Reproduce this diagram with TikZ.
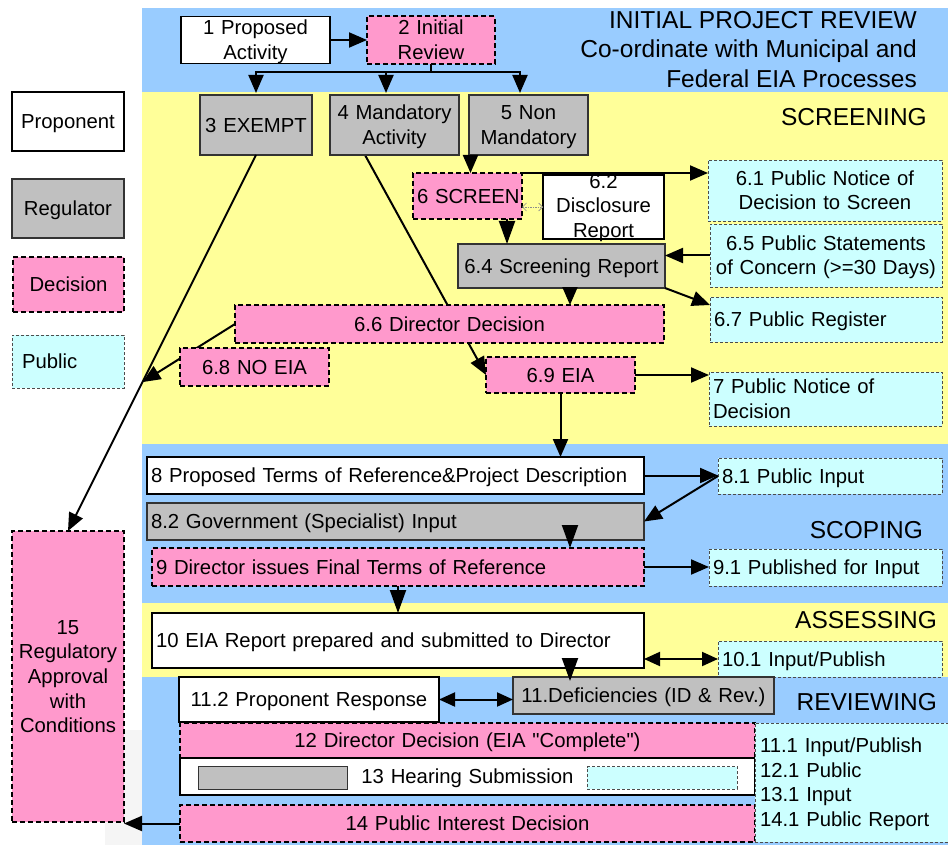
\documentclass[tikz,border=0pt]{standalone}
\usepackage{fontspec}
\setmainfont{Liberation Sans}
\usetikzlibrary{arrows.meta,calc}

\definecolor{bandBlue}{HTML}{99CCFF}
\definecolor{bandYellow}{HTML}{FFFF99}
\definecolor{decPink}{HTML}{FF99CC}
\definecolor{regGray}{HTML}{C0C0C0}
\definecolor{pubCyan}{HTML}{CCFFFF}

\newcommand\bodyfont{\fontsize{20.3}{24.7}\selectfont}
\newcommand\headfont{\fontsize{24.5}{29.5}\selectfont}
\newcommand\ppstrut{\vrule width 0pt height 0.905em depth 0.212em\relax}

\pgfdeclarelayer{bg}
\pgfdeclarelayer{behind}
\pgfsetlayers{bg,behind,main}

\begin{document}
\begin{tikzpicture}[x=1pt,y=-1pt,
  base/.style={rectangle, inner xsep=4pt, inner ysep=0pt, outer sep=0pt,
    font=\bodyfont, align=center,
    execute at begin node=\ppstrut, execute at end node=\ppstrut},
  sz/.style 2 args={minimum width=#1pt, minimum height=#2pt, text width=#1pt-8pt},
  blank/.style={execute at begin node={}, execute at end node={}, text width=},
  prop/.style={base, fill=white, draw=black, line width=1.2pt},
  regu/.style={base, fill=regGray, draw=black!80, line width=1.2pt},
  deci/.style={base, fill=decPink, draw=black, line width=2pt,
    dash pattern=on 5pt off 3pt},
  publ/.style={base, fill=pubCyan, draw=black!70, line width=0.9pt,
    dash pattern=on 3pt off 2pt},
  lft/.style={align=left, text width=#1},
  stage/.style={font=\headfont, inner sep=0pt, anchor=east},
  conn/.style={line width=2pt, draw=black},
  arr/.style={conn, -{Triangle[length=18pt,width=15pt]}},
  arrL/.style={conn, -{Triangle[length=23pt,width=16pt]}},
  darr/.style={conn, {Triangle[length=16pt,width=14pt]}-{Triangle[length=16pt,width=14pt]}},
  dotarr/.style={draw=black!45, line width=0.7pt, densely dotted,
    {Straight Barb[length=4pt,width=8pt]}-{Straight Barb[length=4pt,width=8pt]}}
]
\useasboundingbox (0,0) rectangle (948,845);

% ---- legend ----
\node[prop, sz={112}{59}] (legP) at (68,121.5) {Proponent};
\node[regu, sz={112}{59}] (legR) at (68,208.5) {Regulator};
\node[deci, sz={111}{55}] (legD) at (68.5,284.5) {Decision};
\node[publ, sz={112}{53}, inner xsep=10pt, lft=92pt] (legU) at (68,361.5) {Public};

% ---- stage headings ----
\node[font=\headfont, align=right, anchor=east, inner sep=0pt] (title) at (917,49.5)
  {INITIAL PROJECT REVIEW\\Co-ordinate with Municipal and\\Federal EIA Processes};
\node[stage] (sScr) at (927,117) {SCREENING};
\node[stage] (sSco) at (923,530) {SCOPING};
\node[stage] (sAss) at (937,620) {ASSESSING};
\node[stage] (sRev) at (937,702) {REVIEWING};

% ---- initial review ----
\node[prop, sz={149}{46}] (n1) at (255.5,40) {1 Proposed\\Activity};
\node[deci, sz={128}{46}] (n2) at (431,40) {2 Initial\\Review};
\node[regu, sz={112}{60}] (n3) at (256,125) {3 EXEMPT};
\node[regu, sz={129}{60}] (n4) at (394.5,125) {4 Mandatory\\Activity};
\node[regu, sz={119}{60}] (n5) at (528.5,125) {5 Non\\Mandatory};

% ---- screening ----
\node[deci, sz={109}{46}, lft=101pt] (n6) at (467.5,196) {\mbox{6 SCREEN}};
\node[prop, sz={121}{64}, blank] (n62) at (603.5,207) {};
\node[font=\bodyfont, align=center, inner sep=0pt] (n62t) at ($(n62.center)+(0,1)$) {6.2\\Disclosure\\Report};
\node[regu, sz={207}{44}] (n64) at (561.5,266) {6.4 Screening Report};
\node[publ, sz={234}{61}] (n61) at (825,190.5) {6.1 Public Notice of\\Decision to Screen};
\node[publ, sz={232}{63}] (n65) at (826,255.5) {6.5 Public Statements\\of Concern (>=30 Days)};
\node[deci, sz={429}{38}] (n66) at (449.5,324) {6.6 Director Decision};
\node[publ, sz={232}{45}, lft=224pt] (n67) at (826,319.5) {6.7 Public Register};
\node[deci, sz={149}{38}] (n68) at (254.5,367) {6.8 NO EIA};
\node[deci, sz={149}{36}] (n69) at (560.5,375) {6.9 EIA};
\node[publ, sz={233}{54}, lft=225pt] (n7) at (825.5,399) {7 Public Notice of\\Decision};

% ---- scoping ----
\node[prop, sz={497}{37}, lft=489pt] (n8) at (395.5,475.5) {8 Proposed Terms of Reference\&Project Description};
\node[publ, sz={224}{36}, lft=216pt] (n81) at (830,476) {8.1 Public Input};
\node[regu, sz={497}{37}, lft=489pt] (n82) at (395.5,521.5) {8.2 Government (Specialist) Input};
\node[deci, sz={492}{38}, lft=484pt] (n9) at (398,567) {9 Director issues Final Terms of Reference};
\node[publ, sz={233}{37}, lft=225pt] (n91) at (825.5,567.5) {9.1 Published for Input};

% ---- assessing ----
\node[prop, sz={492}{55}, lft=484pt] (n10) at (398,640.5) {10 EIA Report prepared and submitted to Director};
\node[publ, sz={224}{36}, lft=216pt] (n101) at (830,659) {10.1 Input/Publish};

% ---- reviewing ----
\node[regu, sz={261}{37}] (n11) at (643.5,695.5) {\mbox{11.Deficiencies (ID \& Rev.)}};
\node[prop, sz={260}{45}] (n112) at (309,699.5) {11.2 Proponent Response};
\node[deci, sz={575}{35}] (n12) at (467.5,740.5) {12 Director Decision (EIA \textquotedbl Complete\textquotedbl)};
\node[prop, sz={575}{37}] (n13) at (467.5,776.5) {13 Hearing Submission};
\node[regu, sz={149}{18}, blank, line width=1pt] (n13a) at (272.5,778) {};
\node[publ, sz={150}{18}, blank] (n13b) at (662,778) {};
\node[deci, sz={575}{37}] (n14) at (467.5,823.5) {14 Public Interest Decision};
\node[publ, sz={195}{119}, inner xsep=5pt, lft=185pt] (npub) at (852.5,782.5)
  {11.1 Input/Publish\\12.1 Public\\13.1 Input\\14.1 Public Report};
\node[deci, sz={112}{291}] (n15) at (68,676.5) {15\\Regulatory\\Approval\\with\\Conditions};

% ---- connectors drawn over the boxes ----
\draw[arr] (n1.east) -- (n2.west);
\draw[conn] (n2.south) -- ++(0,8) coordinate (fork);
\draw[arr] (fork) -| ($(n3.north)+(0,-2)$);
\draw[arr] (fork) -| ($(n4.north)+(-8.5,-2)$);
\draw[arr] (fork) -| ($(n5.north)+(-8.5,-2)$);
\coordinate (s5) at ($(n5.south west)+(1.5,0)$);
\draw[arr] (s5) -- (s5 |- n6.north);
\draw[arr] (n6.north east) -- (n6.north east -| n61.west);
\draw[dotarr] (n62.west -| n6.east) -- (n62.west);
\coordinate (s6) at ($(n6.south east)+(-15,0)$);
\draw[arrL] (s6) -- (s6 |- n64.north);
\draw[arr] (n65.west) -- (n65.west -| n64.east);
\coordinate (s64) at ($(n64.south)+(8.5,0)$);
\draw[arr] (s64) -- (s64 |- n66.north);
\draw[arr] (n64.south east) -- ($(n67.north west)+(0,8)$);
\draw[arr] (n69.east) -- (n69.east -| n7.west);
\draw[arr] (n69.south) -- (n69.south |- n8.north);
\draw[arr] (n8.east) -- (n8.east -| n81.west);
\draw[arr] (n81.west) -- (n82.east);
\coordinate (s82) at ($(n82.south east)+(-74,-12)$);
\draw[arrL] (s82) -- (s82 |- n9.north);
\draw[arr] (n9.east) -- (n9.east -| n91.west);
\draw[arrL] (n9.south) -- (n9.south |- n10.north);
\draw[darr] (n101.west -| n10.east) -- (n101.west);
\coordinate (s10) at ($(n10.south east)+(-74,-10)$);
\draw[arrL] (s10) -- ($(s10 |- n11.north)+(0,4)$);
\draw[darr] (n112.east) -- (n112.east -| n11.west);
\draw[arr] (n14.west) -- (n14.west -| n15.east);
\draw[arr] (n3.south) -- (n15.north);

% ---- connectors that run behind the boxes ----
\begin{pgfonlayer}{behind}
  \coordinate (j68) at ($(n3.south)!0.604!(n15.north)$);
  \draw[arr] (n66.west) -- (j68);
  \draw[arr] ($(n4.south west)+(35,0)$) -- (n69.west);
\end{pgfonlayer}

% ---- stage bands ----
\begin{pgfonlayer}{bg}
  \fill[white] (0,0) rectangle (948,845);
  \fill[bandBlue] (142,8) rectangle (948,92);
  \fill[bandYellow] (142,92) rectangle (948,444);
  \fill[bandBlue] (142,444) rectangle (948,603);
  \fill[bandYellow] (142,603) rectangle (948,677);
  \fill[bandBlue] (142,677) rectangle (948,845);
  \fill[black!4] (105,730) rectangle (142,845);
\end{pgfonlayer}
\end{tikzpicture}
\end{document}
